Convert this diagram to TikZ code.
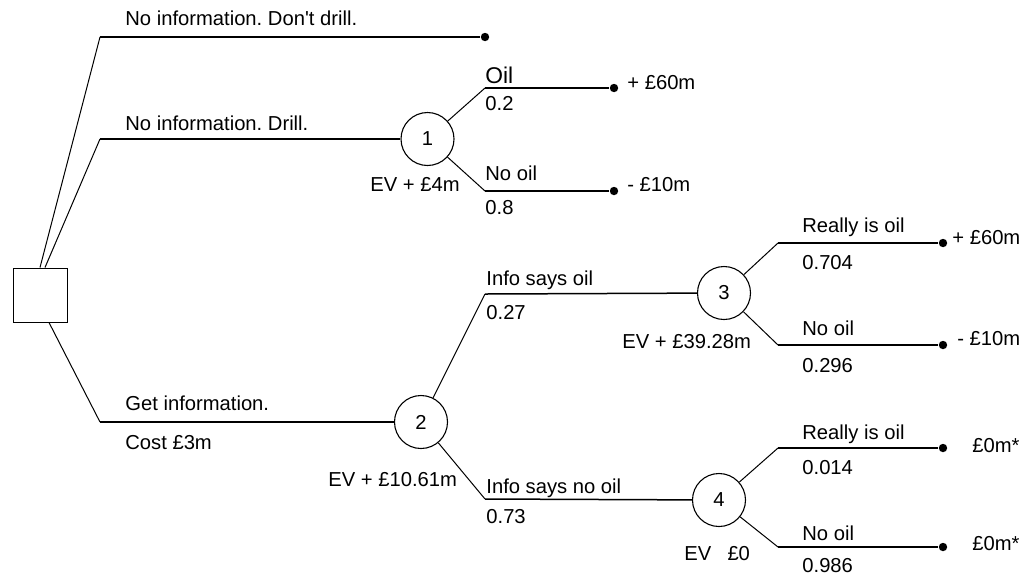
\documentclass[tikz,border=0pt]{standalone}
\usepackage{fontspec}
\setmainfont{Liberation Sans}
\usetikzlibrary{positioning}
\frenchspacing

\begin{document}
\begin{tikzpicture}[x=0.5pt, y=-0.5pt,
    every node/.style={font=\fontsize{10.1}{12}\selectfont},
    decisionbox/.style={rectangle, draw, line width=0.5pt, minimum size=27pt, inner sep=0pt},
    chance/.style={circle, draw, line width=0.55pt, minimum size=26.5pt, inner sep=0pt},
    payoff/.style={circle, fill, minimum size=4.2pt, inner sep=0pt},
    lbl/.style={anchor=base west, inner sep=0pt},
    twig/.style={line width=0.5pt},
    branch/.style={line width=0.75pt},
    mainbranch/.style={line width=1.1pt}
]
    \useasboundingbox (0,0) rectangle (1028,575);

    % decision and chance nodes
    \node[decisionbox] (dec) at (40,295) {};
    \node[chance] (c1) at (427.5,139) {1};
    \node[chance] (c2) at (421,422) {2};
    \node[chance] (c3) at (724,293) {3};
    \node[chance] (c4) at (719,500) {4};

    % end points
    \node[payoff] (e0) at (485,37) {};
    \node[payoff] (e1) at (614,88) {};
    \node[payoff] (e2) at (614,191) {};
    \node[payoff] (e3) at (943,243) {};
    \node[payoff] (e4) at (943,345) {};
    \node[payoff] (e5) at (943,448) {};
    \node[payoff] (e6) at (943,547) {};

    % knees of the branches
    \coordinate (k0) at (100,37);
    \coordinate (k1) at (100,139);
    \coordinate (k2) at (100,422);
    \coordinate (k3) at (485,88);
    \coordinate (k4) at (485,191);
    \coordinate (k5) at (485,294);
    \coordinate (k6) at (485,499);
    \coordinate (k7) at (778,243);
    \coordinate (k8) at (778,345);
    \coordinate (k9) at (778,448);
    \coordinate (k10) at (778,547);

    % branches
    \draw[twig] (dec.north) -- (k0);
    \draw[mainbranch] (k0) -- (e0);
    \draw[twig] ([xshift=2.5pt]dec.north) -- (k1);
    \draw[branch] (k1) -- (c1);
    \draw[twig] ([xshift=4.5pt]dec.south) -- (k2);
    \draw[mainbranch] (k2) -- (c2);

    \draw[twig] (c1) -- (k3);
    \draw[branch] (k3) -- (e1);
    \draw[twig] (c1) -- (k4);
    \draw[branch] (k4) -- (e2);

    \draw[twig] (c2) -- (k5);
    \draw[branch] (k5) -- (c3);
    \draw[twig] (c2) -- (k6);
    \draw[branch] (k6) -- (c4);

    \draw[twig] (c3) -- (k7);
    \draw[branch] (k7) -- (e3);
    \draw[twig] (c3) -- (k8);
    \draw[branch] (k8) -- (e4);
    \draw[twig] (c4) -- (k9);
    \draw[branch] (k9) -- (e5);
    \draw[twig] (c4) -- (k10);
    \draw[branch] (k10) -- (e6);

    % labels
    \node[lbl] (lnodrill) at (125,25) {No information. Don\textquotesingle t drill.};
    \node[lbl] (ldrill) at (125,130) {No information. Drill.};
    \node[lbl] (lgetinfo) at (125,410) {Get information.};
    \node[lbl] (lcost) at (125,449) {Cost £3m};

    \node[lbl, font=\fontsize{11.4}{13}\selectfont] (loil1) at (485,83) {Oil};
    \node[lbl] (pr1) at (485,110) {0.2};
    \node[lbl] (lnooil1) at (485,180) {No oil};
    \node[lbl] (pr2) at (485,214) {0.8};
    \node[lbl] (ev1) at (370,191) {EV + £4m};
    \node[lbl] (v1) at (627,89) {+ £60m};
    \node[lbl] (v2) at (627,191) {- £10m};

    \node[lbl] (lsaysoil) at (486,285) {Info says oil};
    \node[lbl] (pr3) at (486,319) {0.27};
    \node[lbl] (lsaysno) at (486,493) {Info says no oil};
    \node[lbl] (pr4) at (486,523) {0.73};
    \node[lbl] (ev2) at (328,486) {EV + £10.61m};

    \node[lbl] (lreal3) at (802,232) {Really is oil};
    \node[lbl] (pr5) at (802,269) {0.704};
    \node[lbl] (lnooil3) at (802,335) {No oil};
    \node[lbl] (pr6) at (802,372) {0.296};
    \node[lbl] (ev3) at (622,348) {EV + £39.28m};
    \node[lbl] (v3) at (952,244) {+ £60m};
    \node[lbl] (v4) at (957,345) {- £10m};

    \node[lbl] (lreal4) at (802,439) {Really is oil};
    \node[lbl] (pr7) at (802,474) {0.014};
    \node[lbl] (lnooil4) at (802,540) {No oil};
    \node[lbl] (pr8) at (802,572) {0.986};
    \node[lbl] (ev4) at (684,560) {EV\hspace{0.8em}£0};
    \node[lbl] (v5) at (972,452) {£0m*};
    \node[lbl] (v6) at (972,550) {£0m*};
\end{tikzpicture}
\end{document}
